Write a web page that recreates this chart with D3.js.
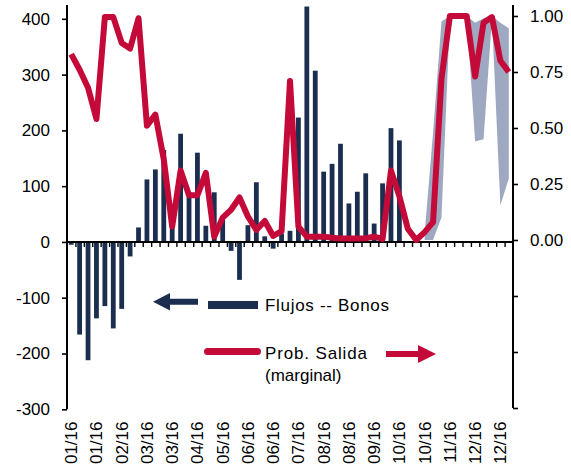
<!DOCTYPE html>
<html><head><meta charset="utf-8">
<script src="https://cdn.jsdelivr.net/npm/d3@7"></script>
<style>
body{margin:0;background:#fff}
svg{display:block}
text{font-family:"Liberation Sans",Arial,sans-serif;fill:#000}
</style>
</head><body>
<svg id="c" width="571" height="474"></svg>
<script>
// Weekly bond flows (left axis)
const flows = [-5,-166,-212,-137,-115,-155,-120,-26,26,112,130,165,40,194,89,160,29,89,45,-16,
  -68,30,107,10,-12,15,20,223,422,307,126,140,176,69,90,123,33,105,204,182,
  null,null,null,null,null,null,null,null,null,null,null,null,null];
// Marginal exit probability (right axis)
const probExit = [0.83,0.76,0.68,0.54,0.995,0.995,0.88,0.855,0.99,0.51,0.56,0.36,0.06,0.31,0.20,0.20,0.30,0.015,0.10,0.135,
  0.19,0.105,0.045,0.085,0.018,0.04,0.71,0.06,0.015,0.015,0.015,0.01,0.007,0.007,0.007,0.008,0.015,0.005,0.31,0.195,
  0.05,0.0,0.035,0.08,0.72,1.0,1.0,1.0,0.73,0.97,0.995,0.80,0.75];
// Range band (right axis)
const bandLower = [null,null,null,null,null,null,null,null,null,null,null,null,null,null,null,null,null,null,null,null,
  null,null,null,null,null,null,null,null,null,null,null,null,null,null,null,null,null,null,null,null,
  null,null,0.0,0.0,0.10,0.99,1.0,1.0,0.44,0.45,0.99,0.155,0.275];
const bandUpper = [null,null,null,null,null,null,null,null,null,null,null,null,null,null,null,null,null,null,null,null,
  null,null,null,null,null,null,null,null,null,null,null,null,null,null,null,null,null,null,null,null,
  null,null,0.03,0.48,0.975,1.0,1.0,1.0,0.97,0.99,1.0,0.97,0.945];
const xTickLabels = ["01/16","01/16","02/16","03/16","03/16","04/16","05/16","06/16","06/16",
  "07/16","08/16","08/16","09/16","10/16","10/16","11/16","12/16","12/16"];
const leftTicks = [400,300,200,100,0,-100,-200,-300];
const rightTicks = [1,0.75,0.5,0.25,0,-0.25,-0.5,-0.75];
const rightLabelled = [1,0.75,0.5,0.25,0];

const navy = "#1c2e4f", red = "#c40a38", bandCol = "#9ea9c1";
const svg = d3.select("#c");
const L = 67, R = 513;
const idx = d3.range(probExit.length);
const x = d3.scaleBand().domain(idx).range([L, R]).paddingInner(0.43).paddingOuter(0.215);
const cx = i => x(i) + x.bandwidth() / 2;
const xb = d3.scaleLinear().domain([0, idx.length]).range([L, R]);
const yL = d3.scaleLinear().domain([-300, 400]).range([409.3, 18.8]);
const yR = d3.scaleLinear().domain([-0.75, 1]).range([408, 16]);

// bars
svg.append("g").selectAll("rect")
  .data(flows.map((v, i) => ({v, i})).filter(d => d.v != null))
  .join("rect")
  .attr("x", d => x(d.i))
  .attr("width", x.bandwidth())
  .attr("y", d => yL(Math.max(0, d.v)))
  .attr("height", d => Math.abs(yL(d.v) - yL(0)))
  .attr("fill", navy);

// band
const bandData = idx.map(i => ({i, lo: bandLower[i], hi: bandUpper[i]}));
svg.append("path")
  .datum(bandData)
  .attr("fill", bandCol)
  .attr("d", d3.area().defined(d => d.lo != null).x(d => cx(d.i)).y0(d => yR(d.lo)).y1(d => yR(d.hi)));

// x axis baseline + ticks
const xAxisG = svg.append("g").attr("transform", `translate(0,${yL(0)})`)
  .call(d3.axisBottom(xb).tickValues(d3.range(1, idx.length)).tickSize(5).tickFormat(""));
xAxisG.select(".domain").remove();
xAxisG.selectAll("line").attr("stroke", "#000").attr("stroke-width", 1.4);
svg.append("line").attr("x1", L).attr("x2", R).attr("y1", yL(0)).attr("y2", yL(0))
  .attr("stroke", "#000").attr("stroke-width", 2);

// line
svg.append("path")
  .datum(idx)
  .attr("fill", "none")
  .attr("stroke", red)
  .attr("stroke-width", 6)
  .attr("stroke-linejoin", "round")
  .attr("d", d3.line().x(i => cx(i)).y(i => yR(probExit[i])));

// x labels
const labIdx = d3.range(0, idx.length, 3);
const xl = svg.append("g").attr("transform", "translate(0,421.5)")
  .call(d3.axisBottom(x).tickValues(labIdx).tickSize(0).tickPadding(0)
    .tickFormat(d => xTickLabels[labIdx.indexOf(d)]));
xl.select(".domain").remove();
xl.attr("font-size", 17).attr("font-family", null);
xl.selectAll("text").attr("x", 0).attr("y", 0).attr("dy", "0.35em")
  .attr("transform", "rotate(-90)").style("text-anchor", "end");

// left axis
const la = svg.append("g").attr("transform", `translate(${L},0)`)
  .call(d3.axisLeft(yL).tickValues(leftTicks).tickSize(5).tickPadding(12).tickFormat(d => String(d)));
la.select(".domain").remove();
la.attr("font-size", 17).attr("font-family", null);
la.selectAll("line").attr("stroke", "#000").attr("stroke-width", 1.6);
svg.append("line").attr("x1", L).attr("x2", L).attr("y1", 5).attr("y2", yL(-300))
  .attr("stroke", "#000").attr("stroke-width", 2);

// right axis
const ra = svg.append("g").attr("transform", `translate(${R},0)`)
  .call(d3.axisRight(yR).tickValues(rightTicks).tickSize(5).tickPadding(12)
    .tickFormat(d => rightLabelled.includes(d) ? d.toFixed(2) : ""));
ra.select(".domain").remove();
ra.attr("font-size", 17).attr("font-family", null);
ra.selectAll("line").attr("stroke", "#000").attr("stroke-width", 1.6);
svg.append("line").attr("x1", R).attr("x2", R).attr("y1", 5).attr("y2", yR(-0.75))
  .attr("stroke", "#000").attr("stroke-width", 2);

// legend
const lg = svg.append("g");
lg.append("path").attr("fill", navy)
  .attr("d", "M153,301.7 L170,293 L170,298.7 L198,298.7 L198,304.7 L170,304.7 L170,310.4 Z");
lg.append("rect").attr("x", 208).attr("y", 301).attr("width", 50).attr("height", 8).attr("fill", navy);
lg.append("text").attr("x", 265).attr("y", 311).attr("font-size", 17)
  .attr("textLength", 124).attr("lengthAdjust", "spacing").text("Flujos -- Bonos");
lg.append("line").attr("x1", 207.5).attr("x2", 257.5).attr("y1", 351.5).attr("y2", 351.5)
  .attr("stroke", red).attr("stroke-width", 7).attr("stroke-linecap", "round");
lg.append("text").attr("x", 265).attr("y", 359).attr("font-size", 17)
  .attr("textLength", 102).attr("lengthAdjust", "spacing").text("Prob. Salida");
lg.append("text").attr("x", 265).attr("y", 381).attr("font-size", 17).text("(marginal)");
lg.append("path").attr("fill", red)
  .attr("d", "M386,351 L418,351 L418,345 L436,354 L418,363 L418,357 L386,357 Z");
</script>
</body></html>
